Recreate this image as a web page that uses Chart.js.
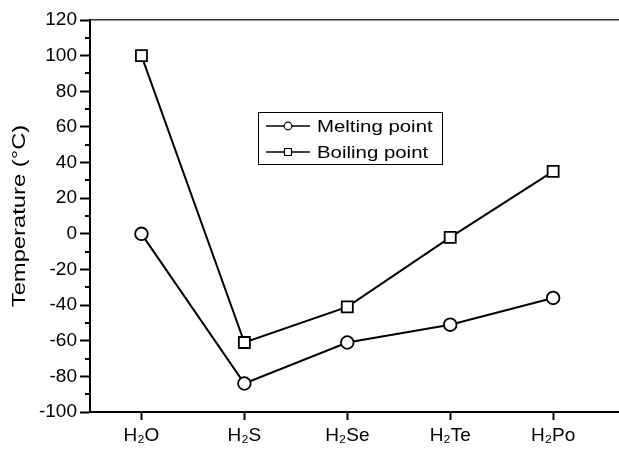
<!DOCTYPE html>
<html>
<head>
<meta charset="utf-8">
<script src="https://cdn.jsdelivr.net/npm/chart.js@4.4.1/dist/chart.umd.min.js"></script>
<style>
    body { margin: 0; background: #fff; }
    #chart { display: block; }
</style>
</head>
<body>
<canvas id="chart" width="619" height="450"></canvas>
<script>
const categories = ["H₂O", "H₂S", "H₂Se", "H₂Te", "H₂Po"];
const meltingPoint = [0, -84, -61, -51, -36];
const boilingPoint = [100, -61, -41, -2, 35];
const yMin = -100;
const yMax = 120;
const yStep = 20;
const yTitle = "Temperature (°C)";

const FONT = "'Liberation Sans', Arial, sans-serif";

// minor ticks on the y axis, between the labelled ones
const minorTicks = {
    id: "minorTicks",
    afterDraw(chart) {
        const y = chart.scales.y;
        const ctx = chart.ctx;
        const left = chart.chartArea.left;
        ctx.save();
        ctx.strokeStyle = "#000";
        ctx.lineWidth = 2;
        for (let v = yMin + yStep / 2; v < yMax; v += yStep) {
            const py = Math.round(y.getPixelForValue(v));
            ctx.beginPath();
            ctx.moveTo(left - 5, py);
            ctx.lineTo(left, py);
            ctx.stroke();
        }
        ctx.restore();
    }
};

// the y title in the source figure is drawn stretched along its length
const stretchedTitle = {
    id: "stretchedTitle",
    afterDraw(chart) {
        const ctx = chart.ctx;
        const a = chart.chartArea;
        ctx.save();
        ctx.translate(20, (a.top + a.bottom) / 2);
        ctx.rotate(-Math.PI / 2);
        ctx.scale(1.32, 1);
        ctx.fillStyle = "#000";
        ctx.font = "18px " + FONT;
        ctx.textAlign = "center";
        ctx.textBaseline = "middle";
        ctx.fillText(yTitle, 0, 0);
        ctx.restore();
    }
};

// boxed legend inside the plot, like the original figure
const boxLegend = {
    id: "boxLegend",
    afterDraw(chart) {
        const ctx = chart.ctx;
        const x0 = 258, y0 = 112, w = 184, h = 52;
        ctx.save();
        ctx.fillStyle = "#fff";
        ctx.fillRect(x0, y0, w, h);
        ctx.strokeStyle = "#000";
        ctx.lineWidth = 1;
        ctx.strokeRect(x0 + 0.5, y0 + 0.5, w, h);
        chart.data.datasets.forEach((ds, i) => {
            const cy = y0 + 14 + i * 26;
            ctx.strokeStyle = "#000";
            ctx.lineWidth = 1.5;
            ctx.beginPath();
            ctx.moveTo(x0 + 8, cy);
            ctx.lineTo(x0 + 52, cy);
            ctx.stroke();
            ctx.fillStyle = "#fff";
            ctx.lineWidth = 1.2;
            ctx.beginPath();
            if (ds.pointStyle === "rect") {
                ctx.rect(x0 + 26.5, cy - 3.5, 7, 7);
            } else {
                ctx.arc(x0 + 30, cy, 3.8, 0, Math.PI * 2);
            }
            ctx.fill();
            ctx.stroke();
            ctx.save();
            ctx.translate(x0 + 59, cy + 1);
            ctx.scale(1.2, 1);
            ctx.fillStyle = "#000";
            ctx.font = "17px " + FONT;
            ctx.textBaseline = "middle";
            ctx.fillText(ds.label, 0, 0);
            ctx.restore();
        });
        ctx.restore();
    }
};

const ctx = document.getElementById("chart").getContext("2d");
new Chart(ctx, {
    type: "line",
    data: {
        datasets: [{
            label: "Melting point",
            data: categories.map((c, i) => ({ x: i, y: meltingPoint[i] })),
            borderColor: "#000",
            borderWidth: 2,
            pointStyle: "circle",
            pointRadius: 6.3,
            pointBorderWidth: 1.8,
            pointBackgroundColor: "#fff",
            pointBorderColor: "#000"
        }, {
            label: "Boiling point",
            data: categories.map((c, i) => ({ x: i, y: boilingPoint[i] })),
            borderColor: "#000",
            borderWidth: 2,
            pointStyle: "rect",
            pointRadius: 7.8,
            pointBorderWidth: 1.8,
            pointBackgroundColor: "#fff",
            pointBorderColor: "#000"
        }]
    },
    options: {
        responsive: false,
        animation: false,
        layout: { autoPadding: false, padding: { top: 20, right: 0, left: 0, bottom: 0 } },
        plugins: {
            legend: { display: false },
            tooltip: { enabled: false }
        },
        scales: {
            x: {
                type: "linear",
                min: -0.5,
                max: 4.64,
                afterBuildTicks: s => { s.ticks = categories.map((c, i) => ({ value: i })); },
                afterFit: s => { s.height = 38; s.paddingLeft = 0; s.paddingRight = 0; },
                ticks: {
                    callback: v => categories[v],
                    color: "#000",
                    font: { family: FONT, size: 19 },
                    padding: 4,
                    maxRotation: 0,
                    autoSkip: false
                },
                grid: { drawOnChartArea: false, tickLength: 8, tickWidth: 2, tickColor: "#000" },
                border: { color: "#000", width: 2 }
            },
            xTop: {
                type: "linear",
                position: "top",
                min: -0.5,
                max: 4.64,
                afterFit: s => { s.height = 0; s.paddingLeft = 0; s.paddingRight = 0; },
                ticks: { display: false },
                grid: { display: false },
                border: { color: "#333", width: 1.5 }
            },
            y: {
                min: yMin,
                max: yMax,
                afterFit: s => { s.width = 90; },
                ticks: {
                    stepSize: yStep,
                    color: "#000",
                    font: { family: FONT, size: 19 },
                    padding: 3
                },
                grid: { drawOnChartArea: false, tickLength: 10, tickWidth: 2, tickColor: "#000" },
                border: { color: "#000", width: 2 }
            }
        }
    },
    plugins: [minorTicks, stretchedTitle, boxLegend]
});
</script>
</body>
</html>
